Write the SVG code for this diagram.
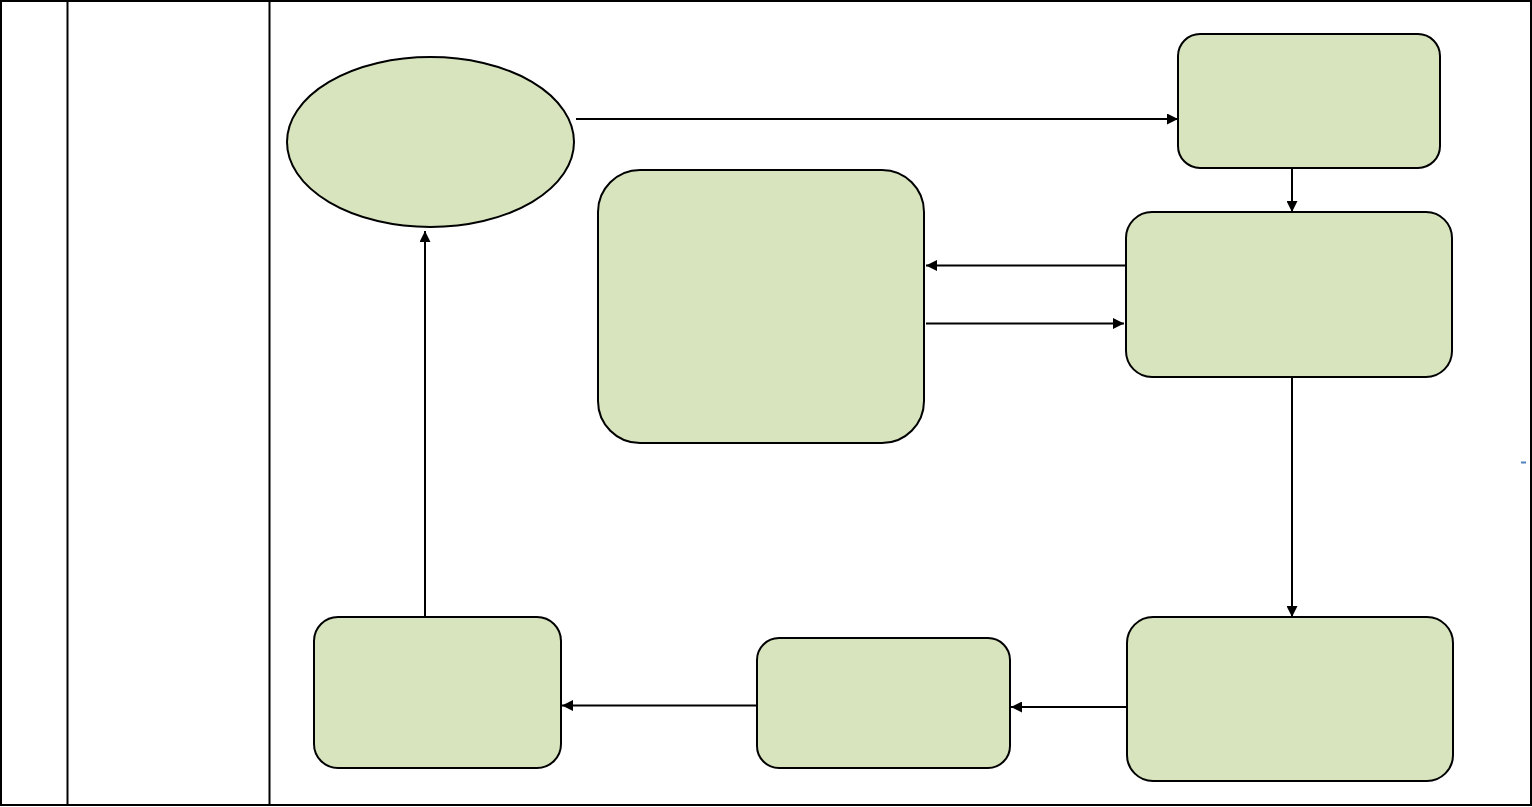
<svg xmlns="http://www.w3.org/2000/svg" width="1532" height="807" viewBox="0 0 1532 807">
<style>
.frame{fill:none;stroke:#000;stroke-width:2}
.node{fill:#d7e4bd;stroke:#000;stroke-width:2}
.conn{fill:none;stroke:#000;stroke-width:2;marker-end:url(#arr)}
</style>
<defs>
<marker id="arr" viewBox="0 0 10 10" refX="10" refY="5" markerWidth="5.5" markerHeight="5.5" markerUnits="strokeWidth" orient="auto">
<path d="M0,0 L10,5 L0,10 z" fill="#000"/>
</marker>
</defs>
<rect width="1532" height="807" fill="#fff"/>
<g id="table">
<rect class="frame" x="1" y="1" width="1530" height="804"/>
<line class="frame" x1="67.5" y1="1" x2="67.5" y2="805"/>
<line class="frame" x1="269.5" y1="1" x2="269.5" y2="805"/>
<line x1="1521" y1="462.5" x2="1526" y2="462.5" stroke="#4f81bd" stroke-width="2"/>
</g>
<g id="n-ellipse"><ellipse class="node" cx="430.5" cy="142" rx="143.5" ry="85"/></g>
<g id="n-topright"><rect class="node" x="1178" y="34" width="262" height="134" rx="22"/></g>
<g id="n-big"><rect class="node" x="598" y="170" width="326" height="273" rx="42"/></g>
<g id="n-rightmid"><rect class="node" x="1126" y="212" width="326" height="165" rx="26"/></g>
<g id="n-bottomright"><rect class="node" x="1127" y="617" width="326" height="164" rx="26"/></g>
<g id="n-bottommid"><rect class="node" x="757" y="638" width="253" height="130" rx="22"/></g>
<g id="n-bottomleft"><rect class="node" x="314" y="617" width="247" height="151" rx="24"/></g>
<g id="connectors">
<line class="conn" x1="576" y1="119" x2="1178" y2="119"/>
<line class="conn" x1="1292" y1="168" x2="1292" y2="212"/>
<line class="conn" x1="1126" y1="265.5" x2="926" y2="265.5"/>
<line class="conn" x1="926" y1="323.5" x2="1124" y2="323.5"/>
<line class="conn" x1="1292" y1="377" x2="1292" y2="617"/>
<line class="conn" x1="1127" y1="707" x2="1011" y2="707"/>
<line class="conn" x1="757" y1="705.5" x2="562" y2="705.5"/>
<line class="conn" x1="425" y1="617" x2="425" y2="231"/>
</g>
</svg>
